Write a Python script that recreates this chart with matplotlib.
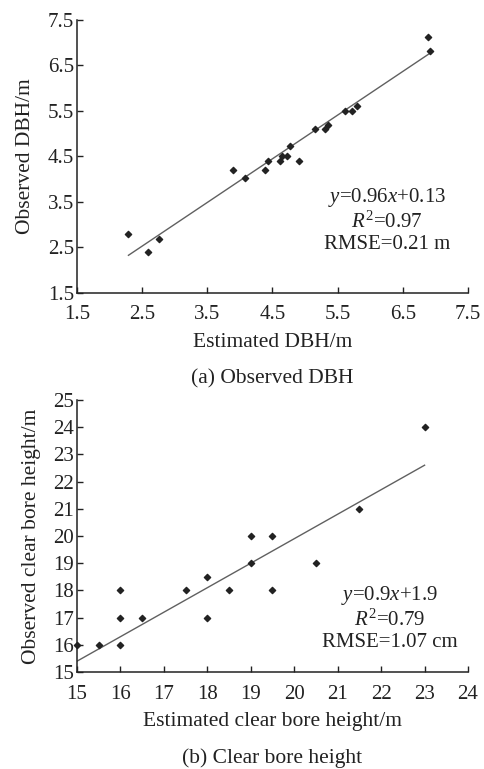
import matplotlib
matplotlib.use("Agg")
import matplotlib.pyplot as plt
import numpy as np

plt.rcParams['font.family'] = ['Liberation Serif', 'DejaVu Serif']
plt.rcParams['mathtext.fontset'] = 'custom'
plt.rcParams['mathtext.rm'] = 'Liberation Serif'
plt.rcParams['mathtext.it'] = 'Liberation Serif:italic'

# (a) DBH
dbh_est = [6.88, 6.92, 5.62, 5.72, 5.80, 5.15, 5.31, 5.35, 4.77, 4.91,
           4.61, 4.65, 4.72, 4.43, 4.39, 3.90, 4.08, 2.29, 2.59, 2.76]
dbh_obs = [7.12, 6.82, 5.50, 5.50, 5.61, 5.10, 5.10, 5.19, 4.72, 4.41,
           4.40, 4.50, 4.50, 4.41, 4.20, 4.20, 4.02, 2.79, 2.39, 2.69]
dbh_fit = (0.96, 0.13)
dbh_fit_range = (2.29, 6.91)
dbh_ticks = [1.5, 2.5, 3.5, 4.5, 5.5, 6.5, 7.5]

# (b) clear bore height
cbh_est = [15.0, 15.5, 16.0, 16.0, 16.0, 16.5, 17.5, 18.0, 18.0, 18.5,
           19.0, 19.0, 19.5, 19.5, 20.5, 21.5, 23.0]
cbh_obs = [16.0, 16.0, 16.0, 17.0, 18.0, 17.0, 18.0, 18.5, 17.0, 18.0,
           19.0, 20.0, 20.0, 18.0, 19.0, 21.0, 24.0]
cbh_fit = (0.9, 1.9)
cbh_fit_range = (15.0, 23.0)
cbh_xticks = list(range(15, 25))
cbh_yticks = list(range(15, 26))

INK = '#222222'


def style_axes(ax):
    for side in ['top', 'right']:
        ax.spines[side].set_visible(False)
    for side in ['left', 'bottom']:
        ax.spines[side].set_linewidth(1.1)
        ax.spines[side].set_color(INK)
    ax.tick_params(direction='in', length=4, width=1, labelsize=15,
                   colors=INK, pad=2)
    ax.tick_params(axis='x', pad=9)


def panel(ax, x, y, fit, fit_range, xticks, yticks, xlabel, ylabel, caption, stats, stat_xy):
    ax.scatter(x, y, s=10, marker='D', color=INK, zorder=3, clip_on=False)
    xs = np.array(fit_range)
    ax.plot(xs, fit[0] * xs + fit[1], color='#606060', lw=1.0)
    ax.set_xlim(xticks[0], xticks[-1])
    ax.set_ylim(yticks[0], yticks[-1])
    ax.set_xticks(xticks)
    ax.set_yticks(yticks)
    style_axes(ax)
    ax.set_xlabel(xlabel, fontsize=15.5, color=INK, labelpad=6)
    ax.set_ylabel(ylabel, fontsize=15.5, color=INK, labelpad=9)
    # caption sits ~86 px below the axis line
    ax.text(0.5, -86 / 273, caption, transform=ax.transAxes, ha='center', va='center',
            fontsize=15.5, color=INK)
    ax.text(stat_xy[0], stat_xy[1], stats, transform=ax.transAxes, ha='center',
            va='center', fontsize=15, color=INK, linespacing=1.15)


fig = plt.figure(figsize=(4.84, 7.69), dpi=100)
ax1 = fig.add_axes([0.159, 0.619, 0.808, 0.355])
ax2 = fig.add_axes([0.159, 0.126, 0.808, 0.354])

panel(ax1, dbh_est, dbh_obs, dbh_fit, dbh_fit_range, dbh_ticks, dbh_ticks,
      'Estimated DBH/m', 'Observed DBH/m', '(a) Observed DBH',
      '$\\mathit{y}$=0.96$\\mathit{x}$+0.13\n$\\mathit{R}^2$=0.97\nRMSE=0.21 m',
      (0.793, 0.267))
panel(ax2, cbh_est, cbh_obs, cbh_fit, cbh_fit_range, cbh_xticks, cbh_yticks,
      'Estimated clear bore height/m', 'Observed clear bore height/m',
      '(b) Clear bore height',
      '$\\mathit{y}$=0.9$\\mathit{x}$+1.9\n$\\mathit{R}^2$=0.79\nRMSE=1.07 cm',
      (0.80, 0.198))

fig.savefig('out.png', dpi=100)
